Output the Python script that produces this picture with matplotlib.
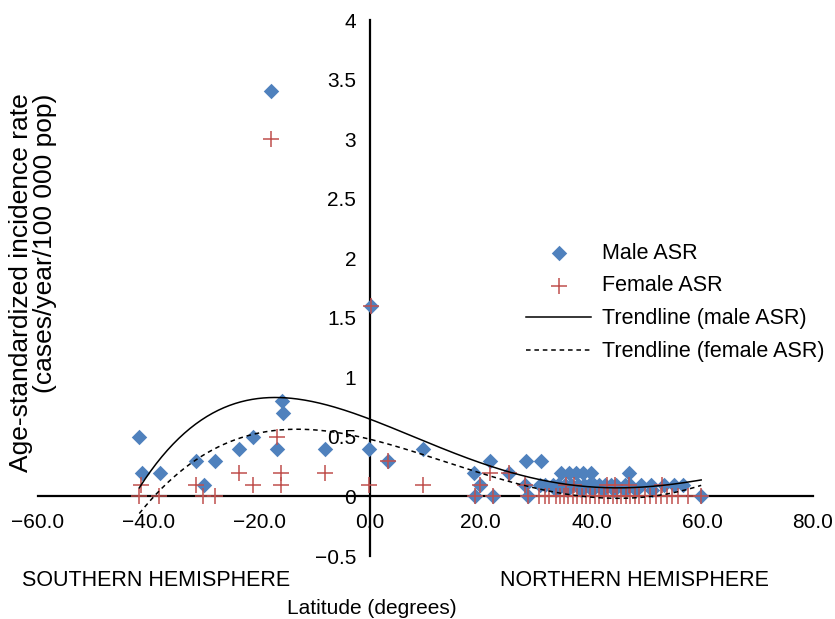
import numpy as np
import matplotlib.pyplot as plt
from matplotlib.ticker import FuncFormatter, MultipleLocator

plt.rcParams['font.family'] = ['Liberation Sans', 'DejaVu Sans']

# male ASR, latitude / value
male_lat = [-41.7, -41.3, -37.9, -31.5, -30.1, -28.0, -23.7, -21.1, -18.0, -15.9,
            -15.8, -16.8, -8.2, -0.2, 0.2, 3.3, 9.6,
            18.7, 21.6, 19.9, 18.9, 22.2, 25.0, 28.1, 30.9, 28.0, 28.5, 30.7, 31.6,
            34.5, 36.0, 37.2, 38.4, 39.9, 46.8,
            33.0, 34.0, 35.2, 36.3, 37.5, 38.6, 39.5, 40.5, 41.4, 42.4, 43.5, 44.5,
            46.0, 47.0, 49.0, 50.8, 53.0, 54.8, 56.6,
            33.5, 35.5, 38.0, 40.0, 42.0, 44.0, 46.0, 48.0, 51.0, 59.8]
male_asr = [0.5, 0.2, 0.2, 0.3, 0.1, 0.3, 0.4, 0.5, 3.4, 0.8,
            0.7, 0.4, 0.4, 0.4, 1.6, 0.3, 0.4,
            0.2, 0.3, 0.1, 0.0, 0.0, 0.2, 0.3, 0.3, 0.1, 0.0, 0.1, 0.1,
            0.2, 0.2, 0.2, 0.2, 0.2, 0.2,
            0.1, 0.1, 0.1, 0.1, 0.1, 0.1, 0.1, 0.1, 0.1, 0.1, 0.1, 0.1,
            0.1, 0.1, 0.1, 0.1, 0.1, 0.1, 0.1,
            0.05, 0.05, 0.05, 0.05, 0.05, 0.05, 0.05, 0.05, 0.05, 0.0]

# female ASR
female_lat = [-41.4, -41.7, -38.1, -31.5, -30.2, -28.1, -23.7, -21.1, -18.0, -16.8,
              -16.1, -16.1, -8.2, -0.2, 0.2, 3.3, 9.6,
              21.6, 19.9, 18.9, 22.2, 25.0, 28.0, 28.5,
              35.4, 36.9, 42.8, 44.3, 46.7, 52.8,
              30.5, 31.5, 32.3, 33.5, 34.3, 35.0, 35.8, 36.6, 37.4, 38.2, 39.0, 39.8,
              40.6, 41.4, 42.2, 43.0, 43.8, 44.6, 45.4, 46.2, 47.0, 47.8, 48.6, 49.6,
              50.6, 51.6, 52.6, 53.6, 54.6, 55.6, 57.4, 59.8]
female_asr = [0.1, 0.0, 0.0, 0.1, 0.0, 0.0, 0.2, 0.1, 3.0, 0.5,
              0.2, 0.1, 0.2, 0.1, 1.6, 0.3, 0.1,
              0.2, 0.1, 0.0, 0.0, 0.2, 0.1, 0.0,
              0.1, 0.1, 0.1, 0.1, 0.1, 0.1,
              0, 0, 0, 0, 0, 0, 0, 0, 0, 0, 0, 0,
              0, 0, 0, 0, 0, 0, 0, 0, 0, 0, 0, 0,
              0, 0, 0, 0, 0, 0, 0, 0]

fs = 15.5

fig = plt.figure(figsize=(8.35, 6.19), dpi=100)
ax = fig.add_axes([38 / 835, 63 / 619, 775 / 835, 536 / 619])

ax.scatter(male_lat, male_asr, marker='D', s=62, color='#4F81BD', lw=0,
           label='Male ASR', zorder=3)
ax.scatter(female_lat, female_asr, marker='+', s=120, color='#C0504D', lw=1.1,
           label='Female ASR', zorder=4)

# polynomial trendlines (order 4) over the data range
xs = np.linspace(min(male_lat), max(male_lat), 300)
pm = np.polyfit(male_lat, male_asr, 4)
pf = np.polyfit(female_lat, female_asr, 4)
ax.plot(xs, np.polyval(pm, xs), color='black', lw=1.1, label='Trendline (male ASR)', zorder=5)
ax.plot(xs, np.polyval(pf, xs), color='black', lw=1.1, ls=(0, (3, 2.5)),
        label='Trendline (female ASR)', zorder=5)

ax.set_xlim(-60, 80)
ax.set_ylim(-0.5, 4)
ax.xaxis.set_major_locator(MultipleLocator(20))
ax.yaxis.set_major_locator(MultipleLocator(0.5))
ax.xaxis.set_major_formatter(FuncFormatter(lambda v, p: f'{v:.1f}'.replace('-', '\u2212')))
ax.yaxis.set_major_formatter(FuncFormatter(lambda v, p: f'{v:g}'.replace('-', '\u2212')))

for s in ['top', 'right']:
    ax.spines[s].set_visible(False)
ax.spines['left'].set_position(('data', 0))
ax.spines['bottom'].set_position(('data', 0))
for s in ['left', 'bottom']:
    ax.spines[s].set_linewidth(1.6)
ax.tick_params(axis='both', length=0, labelsize=15)
ax.tick_params(axis='y', pad=10)
ax.tick_params(axis='x', pad=12)

ax.legend(loc='upper left', bbox_to_anchor=(0.605, 0.621), frameon=False, fontsize=fs,
          handlelength=3.0, labelspacing=0.55, handletextpad=0.5)

fig.text(33 / 835, 1 - 283 / 619, 'Age-standardized incidence rate\n(cases/year/100 000 pop)',
         rotation=90, ha='center', va='center', fontsize=19, multialignment='right',
         linespacing=1.0)
fig.text(22 / 835, 1 - 580 / 619, 'SOUTHERN HEMISPHERE', ha='left', va='center', fontsize=fs)
fig.text(500 / 835, 1 - 580 / 619, 'NORTHERN HEMISPHERE', ha='left', va='center', fontsize=fs)
fig.text(372 / 835, 1 - 608 / 619, 'Latitude (degrees)', ha='center', va='center', fontsize=15)

fig.savefig('out.png', dpi=100)
